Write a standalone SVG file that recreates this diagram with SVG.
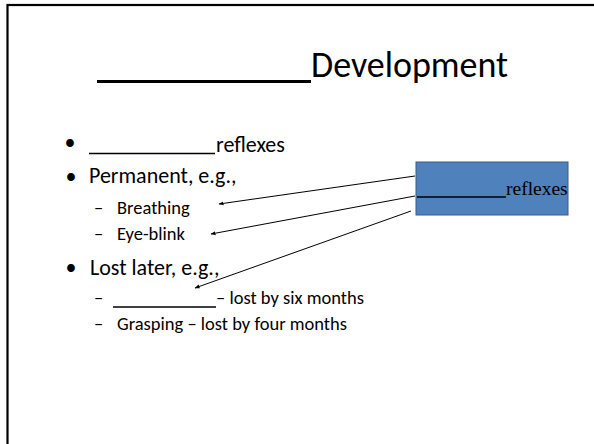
<svg xmlns="http://www.w3.org/2000/svg" width="594" height="444" viewBox="0 0 594 444">
<defs>
<style>
.s{font-family:Carlito,Calibri,Lato,"Open Sans",sans-serif;fill:#000}
.t{font-size:36px}
.b{font-size:22px}
.sb{font-size:18.5px}
.u{stroke:#000;fill:none}
.c{stroke:#000;stroke-width:1;fill:none;marker-end:url(#ah)}
.tm{font-family:"Liberation Serif","Times New Roman",serif;font-size:19.5px;fill:#000}
</style>
<marker id="ah" viewBox="0 0 10 10" refX="9" refY="5" markerWidth="5" markerHeight="5" orient="auto" markerUnits="userSpaceOnUse">
<path d="M0,1 L10,5 L0,9 z" fill="#000"/>
</marker>
</defs>
<rect x="0" y="0" width="594" height="444" fill="#fff"/>
<rect id="frame" x="7.5" y="5" width="600" height="460" fill="none" stroke="#000" stroke-width="2.2"/>
<g id="title">
<line class="u" x1="97" y1="81.5" x2="311" y2="81.5" stroke-width="2.8"/>
<text class="s t" x="311" y="77">Development</text>
</g>
<g id="bullets">
<text class="s b" x="70" y="150" text-anchor="middle">•</text>
<line class="u" x1="89" y1="153.5" x2="215" y2="153.5" stroke-width="1.6"/>
<text class="s b" x="216" y="152">reflexes</text>
<text class="s b" x="71" y="184" text-anchor="middle">•</text>
<text class="s b" x="89" y="183">Permanent, e.g.,</text>
<text class="s sb" x="94" y="214">–</text>
<text class="s sb" x="117" y="214">Breathing</text>
<text class="s sb" x="94" y="240">–</text>
<text class="s sb" x="117" y="240">Eye-blink</text>
<text class="s b" x="71" y="275" text-anchor="middle">•</text>
<text class="s b" x="90" y="275">Lost later, e.g.,</text>
<text class="s sb" x="94" y="304">–</text>
<line class="u" x1="113" y1="307" x2="216" y2="307" stroke-width="1.6"/>
<text class="s sb" x="216" y="304">– lost by six months</text>
<text class="s sb" x="94" y="330">–</text>
<text class="s sb" x="117" y="330">Grasping – lost by four months</text>
</g>
<g id="box">
<rect x="416" y="162" width="152" height="53" fill="#4F81BD" stroke="#385D8A" stroke-width="1"/>
<line class="u" x1="417" y1="197" x2="506" y2="197" stroke-width="1.3"/>
<text class="tm" x="506" y="195">reflexes</text>
</g>
<g id="connectors">
<line class="c" x1="415" y1="176" x2="219" y2="204"/>
<line class="c" x1="415" y1="196" x2="211" y2="234"/>
<line class="c" x1="411" y1="211" x2="195" y2="288"/>
</g>
</svg>
